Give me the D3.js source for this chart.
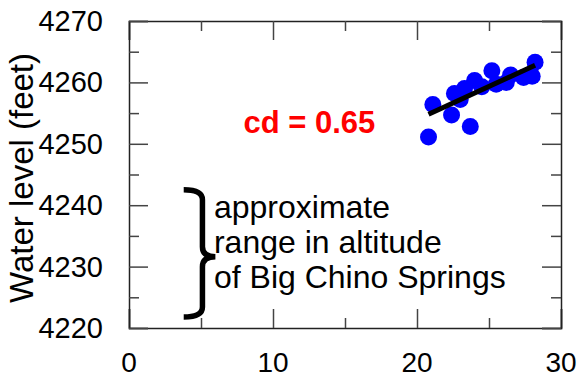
<!DOCTYPE html>
<html>
<head>
<meta charset="utf-8" />
<title>Water level</title>
<script src="https://d3js.org/d3.v7.min.js"></script>
<style>
body { margin: 0; background: white; }
svg { display: block; }
text { font-family: "Liberation Sans", Arial, sans-serif; fill: #000; }
.axis path { stroke: #222; stroke-width: 1.5px; }
.axis line { stroke: #444; stroke-width: 1.5px; }
</style>
</head>
<body>
<div id="chart"></div>
<script>
// data
var distance = [20.8, 21.1, 22.4, 23.7, 22.6, 23.0, 23.3, 24.0, 24.5, 25.2, 25.5, 26.2, 26.5, 27.4, 28.0, 28.2];
var level = [4251.1, 4256.4, 4254.7, 4252.8, 4258.2, 4257.2, 4259.0, 4260.3, 4259.3, 4261.9, 4259.7, 4260.0, 4261.2, 4260.8, 4261.0, 4263.3];
var fitX = [20.8, 28.2];
var fitY = [4254.8, 4262.8];
var xTicks = [0, 10, 20, 30];
var yTicks = [4220, 4230, 4240, 4250, 4260, 4270];
var xMinor = [5, 15, 25];
var yMinor = [4225, 4235, 4245, 4255, 4265];
var noteLines = ["approximate", "range in altitude", "of Big Chino Springs"];
var cdLabel = "cd = 0.65";

var W = 580, H = 379;
var margin = {top: 21, right: 19, bottom: 51, left: 129};
var w = W - margin.left - margin.right,
    h = H - margin.top - margin.bottom;

var svg = d3.select("#chart").append("svg")
    .attr("width", W).attr("height", H);
var g = svg.append("g").attr("transform", "translate(" + margin.left + "," + margin.top + ")");

var x = d3.scaleLinear().domain([0, 30]).range([0, w]);
var y = d3.scaleLinear().domain([4220, 4270]).range([h, 0]);

// frame + ticks, all pointing inward
function frame(axis, tr, vals, size) {
    var a = g.append("g").attr("class", "axis").attr("transform", tr)
        .call(axis.tickValues(vals).tickSize(-size).tickFormat(""));
    a.selectAll("text").remove();
    return a;
}
frame(d3.axisBottom(x), "translate(0," + h + ")", xTicks, 19);
frame(d3.axisBottom(x), "translate(0," + h + ")", xMinor, 10).select(".domain").remove();
frame(d3.axisTop(x), "translate(0,0)", xTicks, 19);
frame(d3.axisTop(x), "translate(0,0)", xMinor, 10).select(".domain").remove();
frame(d3.axisLeft(y), "translate(0,0)", yTicks, 19);
frame(d3.axisLeft(y), "translate(0,0)", yMinor, 10).select(".domain").remove();
frame(d3.axisRight(y), "translate(" + w + ",0)", yTicks, 19);
frame(d3.axisRight(y), "translate(" + w + ",0)", yMinor, 10).select(".domain").remove();

// tick labels
g.selectAll(".xlab").data(xTicks).enter().append("text")
    .attr("x", function(d) { return x(d); })
    .attr("y", h + 44)
    .attr("text-anchor", "middle")
    .style("font-size", "28px")
    .text(function(d) { return d; });

g.selectAll(".ylab").data(yTicks).enter().append("text")
    .attr("x", -26)
    .attr("y", function(d) { return y(d) + 10; })
    .attr("text-anchor", "end")
    .style("font-size", "29px")
    .text(function(d) { return d; });

svg.append("text")
    .attr("transform", "translate(33,178) rotate(-90)")
    .attr("text-anchor", "middle")
    .style("font-size", "33px")
    .text("Water level (feet)");

// points
g.selectAll("circle").data(distance).enter().append("circle")
    .attr("cx", function(d) { return x(d); })
    .attr("cy", function(d, i) { return y(level[i]); })
    .attr("r", 8.5)
    .style("fill", "#0000ff");

// fitted line
g.append("line")
    .attr("x1", x(fitX[0])).attr("y1", y(fitY[0]))
    .attr("x2", x(fitX[1])).attr("y2", y(fitY[1]))
    .style("stroke", "#000").style("stroke-width", 5);

g.append("text")
    .attr("x", x(7.95)).attr("y", y(4251.7))
    .style("font-size", "31px").style("font-weight", "bold")
    .style("fill", "#ff0000")
    .text(cdLabel);

// brace for springs altitude
var bx = x(3.8), bm = x(5.1), bt = x(6.0);
var y0 = y(4242.5), ym = y(4231.6), y1 = y(4221.8);
var brace = "M" + bx + "," + y0 +
    " Q" + bm + "," + y0 + " " + bm + "," + (y0 + 10) +
    " L" + bm + "," + (ym - 10) +
    " Q" + bm + "," + ym + " " + bt + "," + ym +
    " Q" + bm + "," + ym + " " + bm + "," + (ym + 10) +
    " L" + bm + "," + (y1 - 10) +
    " Q" + bm + "," + y1 + " " + bx + "," + y1;
g.append("path").attr("d", brace)
    .style("fill", "none").style("stroke", "#000").style("stroke-width", 5.5);

g.selectAll(".note").data(noteLines).enter().append("text")
    .attr("x", x(5.9))
    .attr("y", function(d, i) { return y(4237.9) + i * 35; })
    .style("font-size", "32px")
    .text(function(d) { return d; });
</script>
</body>
</html>
